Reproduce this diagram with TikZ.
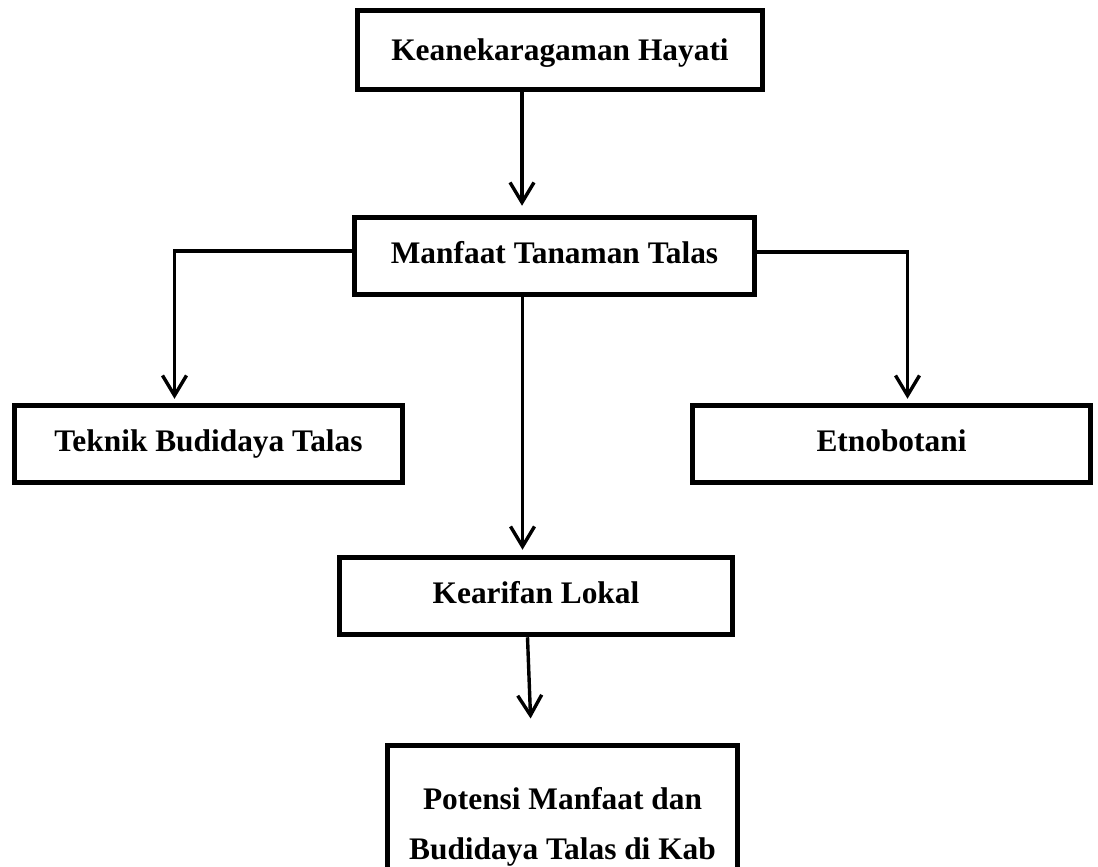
\documentclass[tikz,border=0pt]{standalone}
\usepackage{fontspec}
\setmainfont{Liberation Serif}
\usetikzlibrary{arrows.meta,calc}
\begin{document}
\begin{tikzpicture}[x=1bp,y=-1bp,
  box/.style={draw=black,line width=5.5bp,rectangle,inner sep=0pt,
    font=\fontsize{31.5}{50}\selectfont\bfseries,text height=21bp,text depth=7bp,
    align=center},
  arr/.style={line width=3.4bp,-{Straight Barb[length=20bp,width=24bp]}}]
\clip (0,0) rectangle (1098,867);
\fill[white] (0,0) rectangle (1098,867);
\node[box,minimum width=405bp,minimum height=79bp,text depth=1bp] (top) at (560,50) {Keanekaragaman Hayati};
\node[box,minimum width=400bp,minimum height=77bp] (man) at (554.5,256) {Manfaat Tanaman Talas};
\node[box,minimum width=388bp,minimum height=77bp] (tek) at (208.5,444) {Teknik Budidaya Talas};
\node[box,minimum width=398bp,minimum height=77bp] (etn) at (891.5,444) {Etnobotani};
\node[box,minimum width=393bp,minimum height=77bp] (kea) at (536,596) {Kearifan Lokal};
\node[draw=black,line width=5.5bp,rectangle,minimum width=350bp,minimum height=215bp,anchor=north] (bot) at (562.5,742.5) {};
\node[font=\fontsize{31.5}{50}\selectfont\bfseries,align=center,inner sep=0pt,anchor=north] (bottxt) at (562.5,787) {Potensi Manfaat dan\\Budidaya Talas di Kab};
% connectors
\draw[arr,shorten >=9bp] ([xshift=-38bp]top.south) -- ([xshift=-38bp]top.south |- man.north);
\draw[arr,shorten >=5bp] ([xshift=-32bp]man.south) -- ([xshift=-32bp]man.south |- kea.north);
\draw[arr,shorten >=4bp] ([yshift=5bp]man.west) -| ([xshift=-34bp]tek.north);
\draw[arr,shorten >=4bp] ([yshift=4bp]man.east) -| ([xshift=16bp]etn.north);
\draw[arr,shorten >=24bp] ([xshift=-35bp]bot.north |- kea.south) -- ([xshift=-31bp]bot.north);
\end{tikzpicture}
\end{document}
